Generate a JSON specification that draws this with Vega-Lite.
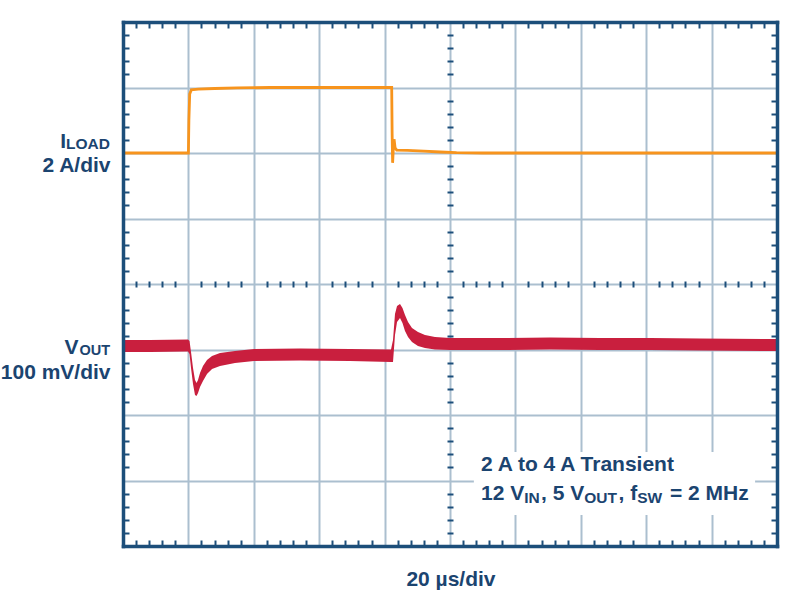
{
  "$schema": "https://vega.github.io/schema/vega-lite/v6.json",
  "autosize": "none",
  "width": 654,
  "height": 524,
  "padding": {"left": 123, "top": 22, "right": 23, "bottom": 52},
  "background": "white",
  "config": {"view": {"stroke": null}, "text": {"font": "Liberation Sans, Arial, sans-serif", "fontWeight": "bold", "color": "#1b4470", "baseline": "alphabetic"}},
  "datasets": {
    "iload": [
      {"t": 0, "i": 2.0}, {"t": 20.0, "i": 2.0}, {"t": 20.15, "i": 2.5}, {"t": 20.4, "i": 2.9},
      {"t": 20.9, "i": 2.965}, {"t": 23, "i": 2.975}, {"t": 28, "i": 2.985}, {"t": 35, "i": 2.993},
      {"t": 45, "i": 3.0}, {"t": 82.17, "i": 3.0}, {"t": 82.3, "i": 2.3}, {"t": 82.45, "i": 1.85},
      {"t": 82.65, "i": 2.05}, {"t": 82.9, "i": 2.21}, {"t": 83.2, "i": 2.08}, {"t": 83.7, "i": 2.045},
      {"t": 87, "i": 2.04}, {"t": 92, "i": 2.03}, {"t": 97, "i": 2.015}, {"t": 102, "i": 2.005},
      {"t": 110, "i": 2.0}, {"t": 200, "i": 2.0}
    ],
    "vout": [
      {"t": 0, "hi": -0.855, "lo": -1.038}, {"t": 8.26, "hi": -0.855, "lo": -1.038},
      {"t": 19.88, "hi": -0.847, "lo": -1.031}, {"t": 20.34, "hi": -0.870, "lo": -1.069},
      {"t": 20.80, "hi": -1.038, "lo": -1.282}, {"t": 21.41, "hi": -1.282, "lo": -1.527},
      {"t": 22.02, "hi": -1.466, "lo": -1.695}, {"t": 22.48, "hi": -1.511, "lo": -1.710},
      {"t": 22.94, "hi": -1.466, "lo": -1.664}, {"t": 23.55, "hi": -1.359, "lo": -1.573},
      {"t": 24.46, "hi": -1.252, "lo": -1.481}, {"t": 25.69, "hi": -1.160, "lo": -1.374},
      {"t": 27.22, "hi": -1.099, "lo": -1.298}, {"t": 29.66, "hi": -1.053, "lo": -1.252},
      {"t": 34.25, "hi": -1.023, "lo": -1.206}, {"t": 40.06, "hi": -0.992, "lo": -1.176},
      {"t": 54.13, "hi": -0.985, "lo": -1.168}, {"t": 69.42, "hi": -0.992, "lo": -1.176},
      {"t": 81.96, "hi": -1.000, "lo": -1.191}, {"t": 82.57, "hi": -0.855, "lo": -1.191},
      {"t": 83.18, "hi": -0.458, "lo": -0.779}, {"t": 83.80, "hi": -0.336, "lo": -0.580},
      {"t": 84.71, "hi": -0.305, "lo": -0.519}, {"t": 85.47, "hi": -0.366, "lo": -0.595},
      {"t": 86.24, "hi": -0.473, "lo": -0.718}, {"t": 87.16, "hi": -0.580, "lo": -0.809},
      {"t": 88.38, "hi": -0.672, "lo": -0.885}, {"t": 90.21, "hi": -0.733, "lo": -0.947},
      {"t": 92.35, "hi": -0.779, "lo": -0.977}, {"t": 95.41, "hi": -0.809, "lo": -1.000},
      {"t": 100, "hi": -0.824, "lo": -1.008}, {"t": 115.29, "hi": -0.824, "lo": -1.008},
      {"t": 130.58, "hi": -0.817, "lo": -1.000}, {"t": 145.87, "hi": -0.824, "lo": -1.008},
      {"t": 161.16, "hi": -0.824, "lo": -1.008}, {"t": 176.45, "hi": -0.832, "lo": -1.015},
      {"t": 200, "hi": -0.840, "lo": -1.023}
    ]
  },
  "layer": [
    {
      "data": {"name": "iload"},
      "mark": {"type": "line", "color": "#f7941d", "strokeWidth": 2.8},
      "encoding": {
        "x": {"field": "t", "type": "quantitative", "scale": {"domain": [0, 200], "nice": false, "zero": false},
          "axis": {"orient": "bottom", "values": [20, 40, 60, 80, 100, 120, 140, 160, 180], "grid": true, "gridColor": "#abbfcf", "gridWidth": 2, "ticks": false, "labels": false, "domain": false, "title": null, "zindex": 0}},
        "y": {"field": "i", "type": "quantitative", "scale": {"domain": [-4, 4], "nice": false, "zero": false},
          "axis": {"orient": "left", "values": [-3, -2, -1, 0, 1, 2, 3], "grid": true, "gridColor": "#abbfcf", "gridWidth": 2, "ticks": false, "labels": false, "domain": false, "title": null, "zindex": 0}}
      }
    },
    {
      "data": {"name": "vout"},
      "mark": {"type": "area", "color": "#c91f3e", "opacity": 1},
      "encoding": {
        "x": {"field": "t", "type": "quantitative", "scale": {"domain": [0, 200], "nice": false, "zero": false},
          "axis": {"orient": "bottom", "values": [4,8,12,16,24,28,32,36,44,48,52,56,64,68,72,76,84,88,92,96,104,108,112,116,124,128,132,136,144,148,152,156,164,168,172,176,184,188,192,196], "grid": false, "ticks": true, "tickSize": -6, "tickWidth": 2, "tickColor": "#1c4e7a", "labels": false, "domain": true, "domainColor": "#1c4e7a", "domainWidth": 3.5, "domainCap": "square", "title": null, "zindex": 2}},
        "y": {"field": "hi", "type": "quantitative", "scale": {"domain": [-4, 4], "nice": false, "zero": false},
          "axis": {"orient": "left", "values": [-3.8,-3.6,-3.4,-3.2,-2.8,-2.6,-2.4,-2.2,-1.8,-1.6,-1.4,-1.2,-0.8,-0.6,-0.4,-0.2,0.2,0.4,0.6,0.8,1.2,1.4,1.6,1.8,2.2,2.4,2.6,2.8,3.2,3.4,3.6,3.8], "grid": false, "ticks": true, "tickSize": -6, "tickWidth": 2, "tickColor": "#1c4e7a", "labels": false, "domain": true, "domainColor": "#1c4e7a", "domainWidth": 3.5, "domainCap": "square", "title": null, "zindex": 2}},
        "y2": {"field": "lo"}
      }
    },
    {
      "data": {"values": [{}]},
      "mark": {"type": "rect", "color": "white"},
      "encoding": {
        "x": {"datum": 107.3, "type": "quantitative", "scale": {"domain": [0, 200], "nice": false, "zero": false},
          "axis": {"orient": "top", "values": [4,8,12,16,24,28,32,36,44,48,52,56,64,68,72,76,84,88,92,96,104,108,112,116,124,128,132,136,144,148,152,156,164,168,172,176,184,188,192,196], "grid": false, "ticks": true, "tickSize": -6, "tickWidth": 2, "tickColor": "#1c4e7a", "labels": false, "domain": true, "domainColor": "#1c4e7a", "domainWidth": 3.5, "domainCap": "square", "title": null, "zindex": 2}},
        "x2": {"datum": 193.3},
        "y": {"datum": -2.565, "type": "quantitative", "scale": {"domain": [-4, 4], "nice": false, "zero": false},
          "axis": {"orient": "right", "values": [-3.8,-3.6,-3.4,-3.2,-2.8,-2.6,-2.4,-2.2,-1.8,-1.6,-1.4,-1.2,-0.8,-0.6,-0.4,-0.2,0.2,0.4,0.6,0.8,1.2,1.4,1.6,1.8,2.2,2.4,2.6,2.8,3.2,3.4,3.6,3.8], "grid": false, "ticks": true, "tickSize": -6, "tickWidth": 2, "tickColor": "#1c4e7a", "labels": false, "domain": true, "domainColor": "#1c4e7a", "domainWidth": 3.5, "domainCap": "square", "title": null, "zindex": 2}},
        "y2": {"datum": -3.527}
      }
    },
    {
      "data": {"values": [{}]},
      "mark": {"type": "text", "align": "center", "fontSize": 21, "text": "20 µs/div"},
      "encoding": {
        "x": {"datum": 100.3, "type": "quantitative", "scale": {"domain": [0, 200], "nice": false, "zero": false},
          "axis": {"orient": "bottom", "offset": -259, "values": [4,8,12,16,24,28,32,36,44,48,52,56,64,68,72,76,84,88,92,96,104,108,112,116,124,128,132,136,144,148,152,156,164,168,172,176,184,188,192,196], "grid": false, "ticks": true, "tickSize": -6, "tickWidth": 2, "tickColor": "#1c4e7a", "labels": false, "domain": false, "title": null, "zindex": 2}},
        "y": {"datum": -4.618, "type": "quantitative", "scale": {"domain": [-4, 4], "nice": false, "zero": false},
          "axis": {"orient": "left", "offset": -324, "values": [-3.8,-3.6,-3.4,-3.2,-2.8,-2.6,-2.4,-2.2,-1.8,-1.6,-1.4,-1.2,-0.8,-0.6,-0.4,-0.2,0.2,0.4,0.6,0.8,1.2,1.4,1.6,1.8,2.2,2.4,2.6,2.8,3.2,3.4,3.6,3.8], "grid": false, "ticks": true, "tickSize": -6, "tickWidth": 2, "tickColor": "#1c4e7a", "labels": false, "domain": false, "title": null, "zindex": 2}}
      }
    },
    {
      "data": {"values": [{}]},
      "mark": {"type": "text", "align": "right", "fontSize": 21, "text": "I"},
      "encoding": {
        "x": {"datum": -17.37, "type": "quantitative", "scale": {"domain": [0, 200], "nice": false, "zero": false}, "axis": null},
        "y": {"datum": 2.072, "type": "quantitative", "scale": {"domain": [-4, 4], "nice": false, "zero": false}, "axis": null}
      }
    },
    {
      "data": {"values": [{}]},
      "mark": {"type": "text", "align": "right", "fontSize": 15.5, "text": "LOAD"},
      "encoding": {
        "x": {"datum": -3.98, "type": "quantitative", "scale": {"domain": [0, 200], "nice": false, "zero": false}, "axis": null},
        "y": {"datum": 2.061, "type": "quantitative", "scale": {"domain": [-4, 4], "nice": false, "zero": false}, "axis": null}
      }
    },
    {
      "data": {"values": [{}]},
      "mark": {"type": "text", "align": "right", "fontSize": 21, "text": "2 A/div"},
      "encoding": {
        "x": {"datum": -3.82, "type": "quantitative", "scale": {"domain": [0, 200], "nice": false, "zero": false}, "axis": null},
        "y": {"datum": 1.705, "type": "quantitative", "scale": {"domain": [-4, 4], "nice": false, "zero": false}, "axis": null}
      }
    },
    {
      "data": {"values": [{}]},
      "mark": {"type": "text", "align": "right", "fontSize": 21, "text": "V"},
      "encoding": {
        "x": {"datum": -13.6, "type": "quantitative", "scale": {"domain": [0, 200], "nice": false, "zero": false}, "axis": null},
        "y": {"datum": -1.069, "type": "quantitative", "scale": {"domain": [-4, 4], "nice": false, "zero": false}, "axis": null}
      }
    },
    {
      "data": {"values": [{}]},
      "mark": {"type": "text", "align": "right", "fontSize": 14.5, "text": "OUT"},
      "encoding": {
        "x": {"datum": -3.98, "type": "quantitative", "scale": {"domain": [0, 200], "nice": false, "zero": false}, "axis": null},
        "y": {"datum": -1.084, "type": "quantitative", "scale": {"domain": [-4, 4], "nice": false, "zero": false}, "axis": null}
      }
    },
    {
      "data": {"values": [{}]},
      "mark": {"type": "text", "align": "right", "fontSize": 21, "text": "100 mV/div"},
      "encoding": {
        "x": {"datum": -3.82, "type": "quantitative", "scale": {"domain": [0, 200], "nice": false, "zero": false}, "axis": null},
        "y": {"datum": -1.458, "type": "quantitative", "scale": {"domain": [-4, 4], "nice": false, "zero": false}, "axis": null}
      }
    },
    {
      "data": {"values": [{}]},
      "mark": {"type": "text", "align": "left", "fontSize": 21, "text": "2 A to 4 A Transient"},
      "encoding": {
        "x": {"datum": 109.48, "type": "quantitative", "scale": {"domain": [0, 200], "nice": false, "zero": false}, "axis": null},
        "y": {"datum": -2.852, "type": "quantitative", "scale": {"domain": [-4, 4], "nice": false, "zero": false}, "axis": null}
      }
    },
    {
      "data": {"values": [{}]},
      "mark": {"type": "text", "align": "left", "fontSize": 21, "text": "12 V"},
      "encoding": {
        "x": {"datum": 109.48, "type": "quantitative", "scale": {"domain": [0, 200], "nice": false, "zero": false}, "axis": null},
        "y": {"datum": -3.298, "type": "quantitative", "scale": {"domain": [-4, 4], "nice": false, "zero": false}, "axis": null}
      }
    },
    {
      "data": {"values": [{}]},
      "mark": {"type": "text", "align": "left", "fontSize": 15.5, "text": "IN"},
      "encoding": {
        "x": {"datum": 122.69, "type": "quantitative", "scale": {"domain": [0, 200], "nice": false, "zero": false}, "axis": null},
        "y": {"datum": -3.336, "type": "quantitative", "scale": {"domain": [-4, 4], "nice": false, "zero": false}, "axis": null}
      }
    },
    {
      "data": {"values": [{}]},
      "mark": {"type": "text", "align": "left", "fontSize": 21, "text": ", 5 V"},
      "encoding": {
        "x": {"datum": 127.83, "type": "quantitative", "scale": {"domain": [0, 200], "nice": false, "zero": false}, "axis": null},
        "y": {"datum": -3.298, "type": "quantitative", "scale": {"domain": [-4, 4], "nice": false, "zero": false}, "axis": null}
      }
    },
    {
      "data": {"values": [{}]},
      "mark": {"type": "text", "align": "left", "fontSize": 15.5, "text": "OUT"},
      "encoding": {
        "x": {"datum": 141.04, "type": "quantitative", "scale": {"domain": [0, 200], "nice": false, "zero": false}, "axis": null},
        "y": {"datum": -3.336, "type": "quantitative", "scale": {"domain": [-4, 4], "nice": false, "zero": false}, "axis": null}
      }
    },
    {
      "data": {"values": [{}]},
      "mark": {"type": "text", "align": "left", "fontSize": 21, "text": ", f"},
      "encoding": {
        "x": {"datum": 151.53, "type": "quantitative", "scale": {"domain": [0, 200], "nice": false, "zero": false}, "axis": null},
        "y": {"datum": -3.298, "type": "quantitative", "scale": {"domain": [-4, 4], "nice": false, "zero": false}, "axis": null}
      }
    },
    {
      "data": {"values": [{}]},
      "mark": {"type": "text", "align": "left", "fontSize": 15.5, "text": "SW"},
      "encoding": {
        "x": {"datum": 157.25, "type": "quantitative", "scale": {"domain": [0, 200], "nice": false, "zero": false}, "axis": null},
        "y": {"datum": -3.336, "type": "quantitative", "scale": {"domain": [-4, 4], "nice": false, "zero": false}, "axis": null}
      }
    },
    {
      "data": {"values": [{}]},
      "mark": {"type": "text", "align": "left", "fontSize": 21, "text": "= 2 MHz"},
      "encoding": {
        "x": {"datum": 167.28, "type": "quantitative", "scale": {"domain": [0, 200], "nice": false, "zero": false}, "axis": null},
        "y": {"datum": -3.298, "type": "quantitative", "scale": {"domain": [-4, 4], "nice": false, "zero": false}, "axis": null}
      }
    }
  ],
  "resolve": {"axis": {"x": "independent", "y": "independent"}}
}
